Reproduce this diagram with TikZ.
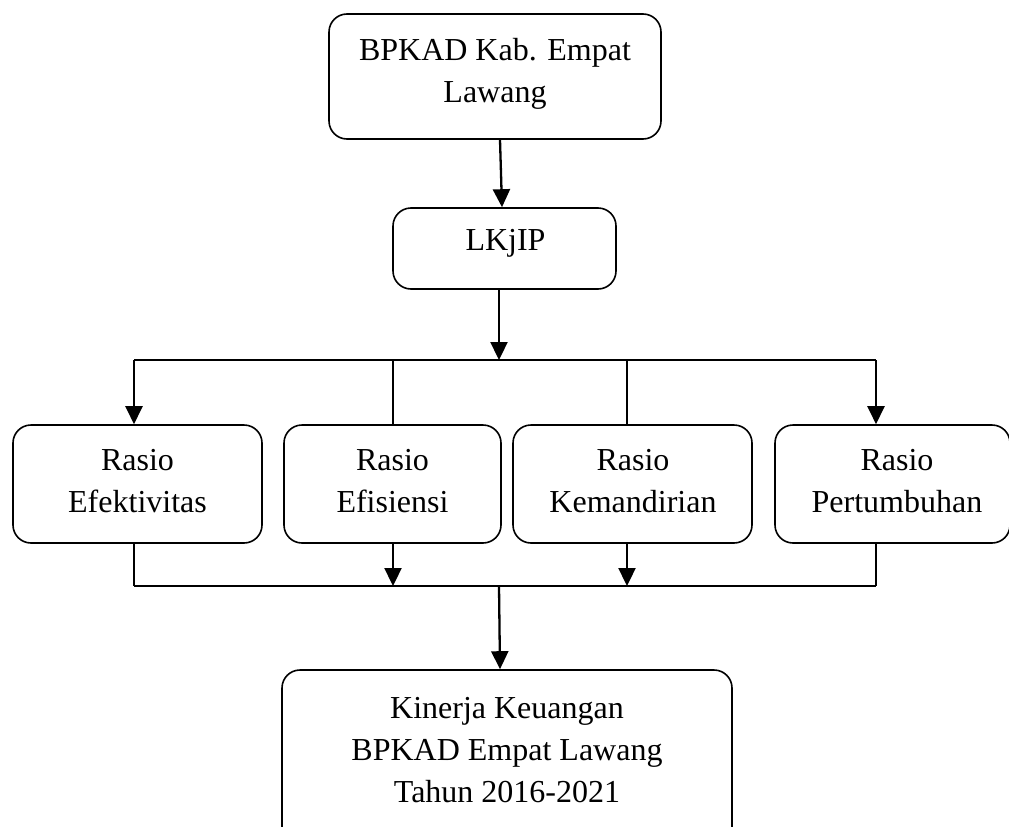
\documentclass[tikz,border=0pt]{standalone}
\usepackage{fontspec}
\setmainfont{Liberation Serif}
\usetikzlibrary{arrows.meta,calc}
\begin{document}
\begin{tikzpicture}[x=1pt,y=-1pt,
  box/.style={draw,line width=1.6pt,rounded corners=18pt,inner sep=0pt},
  txt/.style={anchor=north,inner sep=0pt,align=center,font=\fontsize{32}{42}\selectfont},
  conn/.style={line width=1.8pt},
  arr/.style={line width=2.3pt,-{Triangle[length=18pt,width=17pt]}}]
\clip (0,0) rectangle (1009,827);
% boxes
\node[box,minimum width=332pt,minimum height=125pt] (top) at (495,76.5) {};
\node[box,minimum width=223pt,minimum height=81pt] (lkjip) at (504.5,248.5) {};
\node[box,minimum width=249pt,minimum height=118pt] (r1) at (137.5,484) {};
\node[box,minimum width=217pt,minimum height=118pt] (r2) at (392.5,484) {};
\node[box,minimum width=239pt,minimum height=118pt] (r3) at (632.5,484) {};
\node[box,minimum width=235pt,minimum height=118pt] (r4) at (892.5,484) {};
\node[box,minimum width=450pt,minimum height=190pt] (bot) at (507,765) {};
% texts
\node[txt] (ttop) at (495,30) {\rule{0pt}{30pt}BPKAD Kab. Empat\\Lawang};
\node[txt] (tlkjip) at (505.5,220) {\rule{0pt}{30pt}LKjIP};
\node[txt] (tr1) at (137.5,440) {\rule{0pt}{30pt}Rasio\\Efektivitas};
\node[txt] (tr2) at (392.5,440) {\rule{0pt}{30pt}Rasio\\Efisiensi};
\node[txt] (tr3) at (633,440) {\rule{0pt}{30pt}Rasio\\Kemandirian};
\node[txt] (tr4) at (897,440) {\rule{0pt}{30pt}Rasio\\Pertumbuhan};
\node[txt] (tbot) at (507,688) {\rule{0pt}{30pt}Kinerja Keuangan\\BPKAD Empat Lawang\\Tahun 2016-2021};
% connector coordinates
\coordinate (a1) at (134,360);
\coordinate (a2) at (393,360);
\coordinate (a3) at (627,360);
\coordinate (a4) at (876,360);
\coordinate (ahub) at (499,360);
\coordinate (b1) at (134,586);
\coordinate (b2) at (393,586);
\coordinate (b3) at (627,586);
\coordinate (b4) at (876,586);
\coordinate (bhub) at (499,586);
% connectors
\draw[arr] ($(top.south)+(5,0)$) -- ($(lkjip.north)+(-2.5,0)$);
\draw[arr] (lkjip.south -| ahub) -- (ahub);
\draw[conn] (a1) -- (a4);
\draw[arr] (a1) -- (a1 |- r1.north);
\draw[conn] (a2) -- (a2 |- r2.north);
\draw[conn] (a3) -- (a3 |- r3.north);
\draw[arr] (a4) -- (a4 |- r4.north);
\draw[conn] (b1 |- r1.south) -- (b1);
\draw[arr] (b2 |- r2.south) -- (b2);
\draw[arr] (b3 |- r3.south) -- (b3);
\draw[conn] (b4 |- r4.south) -- (b4);
\draw[conn] (b1) -- (b4);
\draw[arr] (bhub) -- ($(bot.north)+(-7,0)$);
\end{tikzpicture}
\end{document}
